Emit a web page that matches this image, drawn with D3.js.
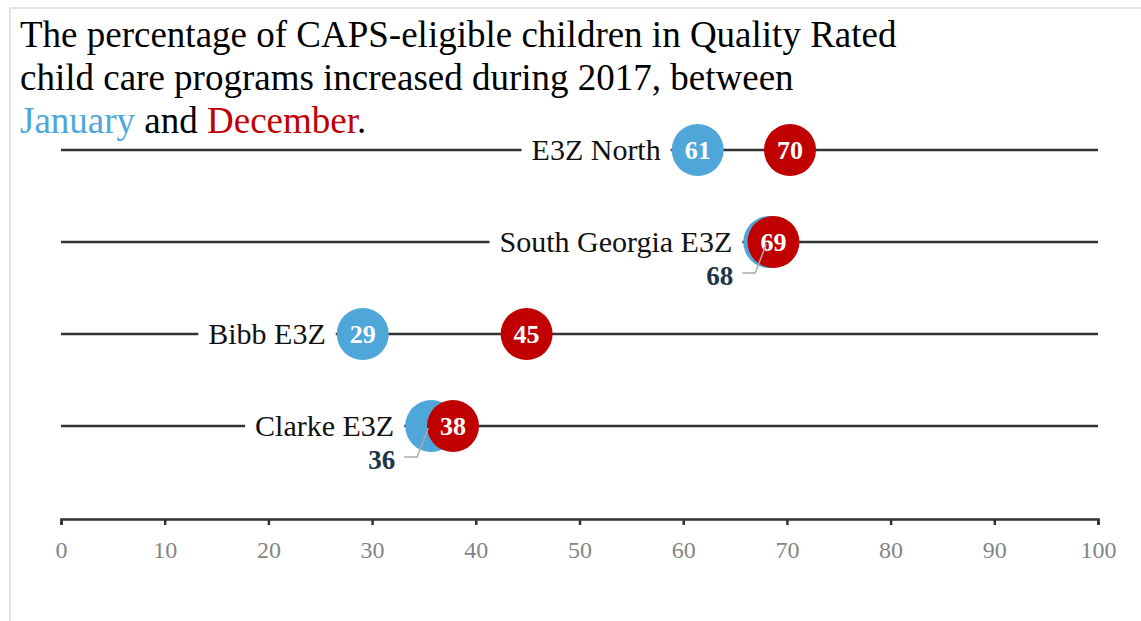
<!DOCTYPE html>
<html>
<head>
<meta charset="utf-8">
<script src="https://cdn.jsdelivr.net/npm/d3@7"></script>
<style>
  body { margin: 0; background: #fff; }
  svg { display: block; }
</style>
</head>
<body>
<script>
// data
var regions = ["E3Z North", "South Georgia E3Z", "Bibb E3Z", "Clarke E3Z"];
var january = [61.4, 68.3, 29.1, 35.7];
var december = [70.3, 68.7, 44.9, 37.8];
var ticks = [0, 10, 20, 30, 40, 50, 60, 70, 80, 90, 100];

var width = 1141,
    height = 621,
    r = 26,
    blue = "#4fa7d9",
    red = "#c00000",
    serif = "'Liberation Serif', 'Times New Roman', serif";

var rows = regions.map(function(name, i) {
  return {name: name, jan: january[i], dec: december[i]};
});

var svg = d3.select("body").append("svg")
    .attr("width", width)
    .attr("height", height);

// light frame
svg.append("path")
    .attr("d", "M10," + height + "V8H" + width)
    .attr("fill", "none")
    .attr("stroke", "#dcdcdc")
    .attr("stroke-width", 1.5);

var x = d3.scaleLinear().domain([0, 100]).range([61, 1098]);
var y = d3.scalePoint().domain(regions).range([150, 426]);

// title
var title = svg.append("text")
    .attr("x", 20)
    .style("font-family", serif)
    .style("font-size", "37px")
    .attr("fill", "#000");
title.append("tspan").attr("x", 20).attr("y", 47)
    .text("The percentage of CAPS-eligible children in Quality Rated");
title.append("tspan").attr("x", 20).attr("y", 90)
    .text("child care programs increased during 2017, between");
var t3 = title.append("tspan").attr("x", 20).attr("y", 133);
t3.append("tspan").attr("fill", blue).text("January");
t3.append("tspan").text(" and ");
t3.append("tspan").attr("fill", red).text("December");
t3.append("tspan").text(".");

// axis
var axis = svg.append("g")
    .attr("transform", "translate(0,519)")
    .call(d3.axisBottom(x).tickValues(ticks).tickSize(6).tickSizeOuter(6).tickPadding(16));
axis.select(".domain").attr("stroke", "#333").attr("stroke-width", 2.5);
axis.selectAll(".tick line").attr("stroke", "#333").attr("stroke-width", 2.5);
axis.selectAll(".tick text")
    .attr("fill", "#858585")
    .style("font-family", serif)
    .style("font-size", "24px");

var row = svg.selectAll(".row")
    .data(rows)
    .enter().append("g")
    .attr("class", "row")
    .attr("transform", function(d) { return "translate(0," + y(d.name) + ")"; });

row.append("line")
    .attr("x1", x(0))
    .attr("x2", x(100))
    .attr("stroke", "#333")
    .attr("stroke-width", 2.5);

// region labels with white backing
var labelBox = row.append("rect").attr("fill", "#fff");
var label = row.append("text")
    .attr("x", function(d) { return x(Math.min(d.jan, d.dec)) - r - 11; })
    .attr("dy", "0.33em")
    .attr("text-anchor", "end")
    .style("font-family", serif)
    .style("font-size", "30px")
    .attr("fill", "#111")
    .text(function(d) { return d.name; });
label.each(function(d) {
  var b = this.getBBox();
  d3.select(this.parentNode).select("rect")
      .attr("x", b.x - 10)
      .attr("y", -20)
      .attr("width", b.width + 20)
      .attr("height", 40);
});

row.append("circle")
    .attr("cx", function(d) { return x(d.jan); })
    .attr("r", r)
    .attr("fill", blue);

row.append("circle")
    .attr("cx", function(d) { return x(d.dec); })
    .attr("r", r)
    .attr("fill", red);

function overlaps(d) { return Math.abs(x(d.dec) - x(d.jan)) < 2 * r; }

// labels inside the circles
row.filter(function(d) { return !overlaps(d); }).append("text")
    .attr("x", function(d) { return x(d.jan); })
    .attr("dy", "0.35em")
    .attr("text-anchor", "middle")
    .style("font-family", serif)
    .style("font-size", "26px")
    .style("font-weight", "bold")
    .attr("fill", "#fff")
    .text(function(d) { return Math.round(d.jan); });

row.append("text")
    .attr("x", function(d) { return x(d.dec); })
    .attr("dy", "0.35em")
    .attr("text-anchor", "middle")
    .style("font-family", serif)
    .style("font-size", "26px")
    .style("font-weight", "bold")
    .attr("fill", "#fff")
    .text(function(d) { return Math.round(d.dec); });

// callouts for hidden January values
var callout = row.filter(overlaps);
callout.append("path")
    .attr("d", function(d) {
      var cx = x(d.jan) - 3;
      return "M" + cx + ",2L" + (cx - 11) + ",31H" + (cx - 24);
    })
    .attr("fill", "none")
    .attr("stroke", "#aaa")
    .attr("stroke-width", 1.5);
callout.append("text")
    .attr("x", function(d) { return x(d.jan) - 36; })
    .attr("y", 43)
    .attr("text-anchor", "end")
    .style("font-family", serif)
    .style("font-size", "27px")
    .style("font-weight", "bold")
    .attr("fill", "#1b3549")
    .text(function(d) { return Math.round(d.jan); });
</script>
</body>
</html>
